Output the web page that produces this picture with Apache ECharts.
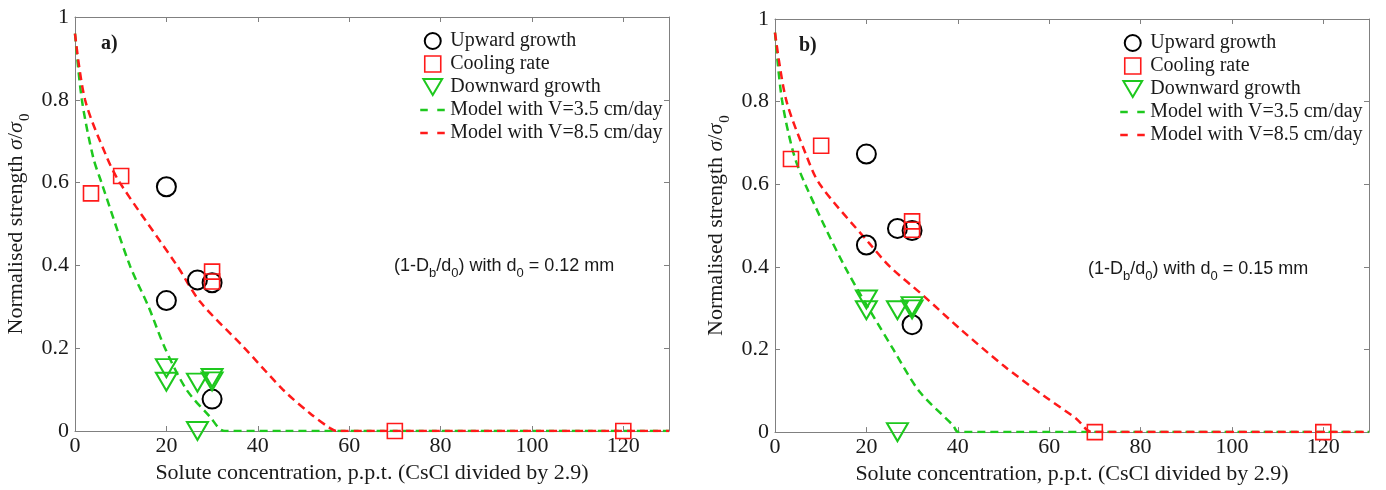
<!DOCTYPE html>
<html><head><meta charset="utf-8">
<script src="https://cdn.jsdelivr.net/npm/echarts@6/dist/echarts.min.js"></script>
<style>html,body{margin:0;padding:0;background:#fff}#c{width:1386px;height:490px}</style>
</head><body><div id="c"></div>
<script>
// ---------- data ----------
const xTickLabels = ['0','20','40','60','80','100','120'];
const yTickLabels = ['0','0.2','0.4','0.6','0.8','1'];
const seriesNames = ['Upward growth','Cooling rate','Downward growth','Model with V=3.5 cm/day','Model with V=8.5 cm/day'];

// panel a)
const upXA = [20, 20, 26.8, 30, 30];
const upYA = [0.59, 0.315, 0.365, 0.358, 0.077];
const coolXA = [3.5, 10.1, 30, 30, 70, 120];
const coolYA = [0.574, 0.616, 0.385, 0.361, 0, 0];
const downXA = [20, 20, 26.8, 30, 30, 26.8];
const downYA = [0.152, 0.119, 0.117, 0.128, 0.12, 0];
const m35XA = [0, 1.5, 4.0, 5.8, 12.0, 16.1, 19.7, 24.4, 29.5, 32.8, 130];
const m35YA = [0.96, 0.8, 0.66, 0.6, 0.4, 0.3, 0.2, 0.1, 0.035, 0, 0];
const m85XA = [0, 2.2, 6.9, 9.8, 22.3, 27.4, 36.8, 45.6, 51.4, 55.8, 57.3, 130];
const m85YA = [0.96, 0.8, 0.663, 0.6, 0.4, 0.312, 0.204, 0.099, 0.043, 0.007, 0, 0];

// panel b)
const upXB = [20, 20, 26.8, 30, 30];
const upYB = [0.673, 0.453, 0.493, 0.488, 0.26];
const coolXB = [3.5, 10.1, 30, 30, 70, 120];
const coolYB = [0.661, 0.693, 0.51, 0.49, 0, 0];
const downXB = [20, 20, 26.8, 30, 30, 26.8];
const downYB = [0.321, 0.295, 0.295, 0.305, 0.297, 0];
const m35XB = [0, 1.5, 4.0, 6.6, 15.3, 25.9, 31.7, 39.0, 40.1, 130];
const m35YB = [0.967, 0.806, 0.677, 0.6, 0.4, 0.2, 0.097, 0.016, 0, 0];
const m85XB = [0, 2.4, 6.6, 9.8, 20.8, 25.2, 32.5, 40.5, 50.0, 58.7, 66.0, 69.4, 130];
const m85YB = [0.967, 0.806, 0.677, 0.6, 0.455, 0.4, 0.33, 0.25, 0.161, 0.089, 0.032, 0, 0];

const panelLetters = ['a)', 'b)'];
const panelD0 = ['0.12', '0.15'];

// ---------- styles ----------
const SERIF = 'Liberation Serif';
const SANS = 'Liberation Sans';
const GREEN = '#1ec81e';
const RED = '#ff1a1a';
const FRAME = '#808080';
const TXT = '#1a1a1a';
const TRI = 'path://M0,0L20,0L10,17Z';
const SQ = 'path://M0,0L10,0L10,10L0,10Z';

const pairs = (xs, ys) => xs.map((x, i) => [x, ys[i]]);
const xLabel = v => { const i = xTickLabels.indexOf(String(v)); return i >= 0 ? xTickLabels[i] : ''; };
const yLabel = v => { const s = String(Math.round(v * 10) / 10); return yTickLabels.indexOf(s) >= 0 ? s : ''; };

const grids = [
  { left: 75, top: 17, width: 594, height: 414 },
  { left: 775, top: 19, width: 594, height: 414 }
];

const xAxes = [], yAxes = [];
grids.forEach((g, gi) => {
  xAxes.push({
    type: 'value', gridIndex: gi, min: 0, max: 130, interval: 20, position: 'bottom',
    name: 'Solute concentration, p.p.t. (CsCl divided by 2.9)', nameLocation: 'middle', nameGap: 30,
    nameTextStyle: { fontFamily: SERIF, fontSize: 22, color: TXT },
    axisLine: { show: true, onZero: false, lineStyle: { color: FRAME, width: 1 } },
    axisTick: { show: true, inside: true, length: 5, lineStyle: { color: FRAME } },
    axisLabel: { fontFamily: SERIF, fontSize: 22, color: TXT, margin: 4, formatter: xLabel, showMaxLabel: false },
    splitLine: { show: false }
  });
  xAxes.push({
    type: 'value', gridIndex: gi, min: 0, max: 130, interval: 20, position: 'top',
    axisLine: { show: true, onZero: false, lineStyle: { color: FRAME, width: 1 } },
    axisTick: { show: true, inside: true, length: 5, lineStyle: { color: FRAME } },
    axisLabel: { show: false }, splitLine: { show: false }
  });
  yAxes.push({
    type: 'value', gridIndex: gi, min: 0, max: 1, interval: 0.2, position: 'left',
    name: '{n|Normalised strength }{i|σ}{n|/}{i|σ}{s|0}', nameLocation: 'middle', nameGap: 42, nameRotate: 90,
    nameTextStyle: {
      color: TXT,
      rich: {
        n: { fontFamily: SERIF, fontSize: 22, color: TXT, verticalAlign: 'top' },
        i: { fontFamily: SERIF, fontSize: 22, fontStyle: 'italic', color: TXT, verticalAlign: 'top' },
        s: { fontFamily: SERIF, fontSize: 15, color: TXT, verticalAlign: 'top', padding: [13, 0, 0, 1] }
      }
    },
    axisLine: { show: true, onZero: false, lineStyle: { color: FRAME, width: 1 } },
    axisTick: { show: true, inside: true, length: 5, lineStyle: { color: FRAME } },
    axisLabel: { fontFamily: SERIF, fontSize: 22, color: TXT, margin: 6, formatter: yLabel },
    splitLine: { show: false }
  });
  yAxes.push({
    type: 'value', gridIndex: gi, min: 0, max: 1, interval: 0.2, position: 'right',
    axisLine: { show: true, onZero: false, lineStyle: { color: FRAME, width: 1 } },
    axisTick: { show: true, inside: true, length: 5, lineStyle: { color: FRAME } },
    axisLabel: { show: false }, splitLine: { show: false }
  });
});

function lineS(name, xs, ys, color, gi) {
  return {
    name, type: 'line', xAxisIndex: gi * 2, yAxisIndex: gi * 2, data: pairs(xs, ys),
    symbol: 'none', smooth: 0.3, z: 2,
    lineStyle: { color, width: 2.5, type: [8, 5] }, itemStyle: { color }
  };
}
function scat(name, xs, ys, symbol, size, color, bw, gi) {
  return {
    name, type: 'scatter', xAxisIndex: gi * 2, yAxisIndex: gi * 2, data: pairs(xs, ys),
    symbol, symbolSize: size, clip: false, z: 3,
    itemStyle: { color: 'rgba(0,0,0,0)', borderColor: color, borderWidth: bw, opacity: 1 }
  };
}

const panels = [
  [upXA, upYA, coolXA, coolYA, downXA, downYA, m35XA, m35YA, m85XA, m85YA],
  [upXB, upYB, coolXB, coolYB, downXB, downYB, m35XB, m35YB, m85XB, m85YB]
];
const series = [];
panels.forEach((p, gi) => {
  series.push(lineS(seriesNames[3], p[6], p[7], GREEN, gi));
  series.push(lineS(seriesNames[4], p[8], p[9], RED, gi));
  series.push(scat(seriesNames[0], p[0], p[1], 'circle', 19, '#000', 2, gi));
  series.push(scat(seriesNames[1], p[2], p[3], SQ, 15, RED, 1.6, gi));
  series.push(scat(seriesNames[2], p[4], p[5], TRI, [21, 18], GREEN, 2, gi));
});

const hiddenSym = { color: 'rgba(0,0,0,0)', borderColor: 'rgba(0,0,0,0)', borderWidth: 0, opacity: 0 };
const legendData = [
  { name: seriesNames[0], icon: 'circle', itemStyle: { color: 'rgba(0,0,0,0)', borderColor: '#000', borderWidth: 2 } },
  { name: seriesNames[1], icon: 'path://M0,0L10,0L10,10L0,10Z', itemStyle: { color: 'rgba(0,0,0,0)', borderColor: RED, borderWidth: 1.6 } },
  { name: seriesNames[2], icon: TRI, itemStyle: { color: 'rgba(0,0,0,0)', borderColor: GREEN, borderWidth: 2 } },
  { name: seriesNames[3], itemStyle: hiddenSym, lineStyle: { color: GREEN, width: 2.5, type: [7.5, 9.5] } },
  { name: seriesNames[4], itemStyle: hiddenSym, lineStyle: { color: RED, width: 2.5, type: [7.5, 9.5] } }
];
const legendBase = {
  orient: 'vertical', itemWidth: 25, itemHeight: 16, itemGap: 3, selectedMode: false,
  textStyle: { fontFamily: SERIF, fontSize: 20, color: TXT },
  data: legendData
};

const annText = d => '{n|(1-D}{s|b}{n|/d}{s|0}{n|) with d}{s|0}{n| = ' + d + ' mm}';
const annRich = {
  n: { fontFamily: SANS, fontSize: 18, fill: TXT, verticalAlign: 'top' },
  s: { fontFamily: SANS, fontSize: 13, fill: TXT, verticalAlign: 'top', padding: [10, 0, 0, 0] }
};

const option = {
  backgroundColor: '#fff',
  animation: false,
  grid: grids,
  xAxis: xAxes,
  yAxis: yAxes,
  legend: [
    Object.assign({}, legendBase, { left: 414, top: 26 }),
    Object.assign({}, legendBase, { left: 1114, top: 28 })
  ],
  graphic: [
    { type: 'text', left: 101, top: 34, style: { text: panelLetters[0], font: 'bold 20px "Liberation Serif"', fill: TXT } },
    { type: 'text', left: 799, top: 36, style: { text: panelLetters[1], font: 'bold 20px "Liberation Serif"', fill: TXT } },
    { type: 'text', left: 394, top: 257, style: { text: annText(panelD0[0]), rich: annRich, fill: TXT } },
    { type: 'text', left: 1088, top: 260, style: { text: annText(panelD0[1]), rich: annRich, fill: TXT } }
  ],
  series
};
const chart = echarts.init(document.getElementById('c'), null, { renderer: 'canvas' });
chart.setOption(option);
</script></body></html>
